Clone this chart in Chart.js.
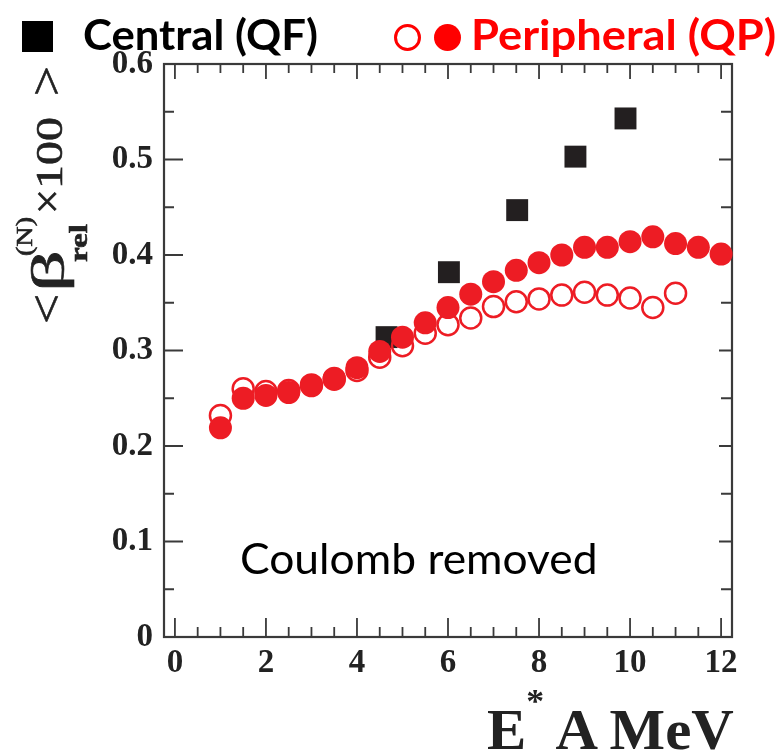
<!DOCTYPE html>
<html><head><meta charset="utf-8">
<script src="https://cdn.jsdelivr.net/npm/chart.js@4.4.0/dist/chart.umd.min.js"></script>
<style>
html,body{margin:0;padding:0;background:#fff;}
#wrap{position:relative;width:780px;height:753px;overflow:hidden;background:#fff;}
#c{position:absolute;left:0;top:0;}
.ov{position:absolute;white-space:nowrap;transform-origin:0 0;}
</style></head><body>
<div id="wrap">
<canvas id="c" width="780" height="753"></canvas>
<div class="ov" style="left:22px;top:21px;width:31px;height:31px;background:#000;"></div>
<div class="ov" id="legCentral" style="left:83px;top:13px;font:bold 42px Lato;line-height:42px;color:#000;">Central (QF)</div>
<div class="ov" style="left:394px;top:24px;width:21px;height:21px;border:3px solid #f00;border-radius:50%;"></div>
<div class="ov" style="left:434px;top:24px;width:27px;height:27px;background:#f00;border-radius:50%;"></div>
<div class="ov" id="legPeri" style="left:471px;top:13px;font:bold 42px Lato;line-height:42px;color:#f00;">Peripheral (QP)</div>
<div class="ov" id="coul" style="left:240px;top:536px;font:43px Lato;line-height:43px;color:#000;">Coulomb removed</div>
<div class="ov" id="xtitle" style="left:487px;top:702px;font:bold 56px 'Liberation Serif';line-height:56px;color:#222;">E<span style="position:relative;top:-37px;font-size:34px;">*</span> A MeV</div>
</div>
<script>
// ---- data ----
const xTickValues = [0, 2, 4, 6, 8, 10, 12];
const xTickLabels = ['0', '2', '4', '6', '8', '10', '12'];
const yTickValues = [0, 0.1, 0.2, 0.3, 0.4, 0.5, 0.6];
const yTickLabels = ['0', '0.1', '0.2', '0.3', '0.4', '0.5', '0.6'];
const xMinorTicks = [0.5, 1, 1.5, 2.5, 3, 3.5, 4.5, 5, 5.5, 6.5, 7, 7.5, 8.5, 9, 9.5, 10.5, 11, 11.5];
const yMinorTicks = [0.05, 0.15, 0.25, 0.35, 0.45, 0.55];

const centralE    = [4.65, 6.02, 7.52, 8.80, 9.90];
const centralBeta = [0.314, 0.382, 0.447, 0.503, 0.543];

const periFilledE    = [1, 1.5, 2, 2.5, 3, 3.5, 4, 4.5, 5, 5.5, 6, 6.5, 7, 7.5, 8, 8.5, 9, 9.5, 10, 10.5, 11, 11.5, 12];
const periFilledBeta = [0.219, 0.250, 0.253, 0.256, 0.263, 0.271, 0.282, 0.299, 0.314, 0.329, 0.345, 0.359, 0.372, 0.384, 0.392, 0.400, 0.408, 0.408, 0.414, 0.419, 0.412, 0.408, 0.401];

const periOpenE    = [1, 1.5, 2, 2.5, 3, 3.5, 4, 4.5, 5, 5.5, 6, 6.5, 7, 7.5, 8, 8.5, 9, 9.5, 10, 10.5, 11];
const periOpenBeta = [0.232, 0.260, 0.257, 0.258, 0.264, 0.270, 0.279, 0.293, 0.305, 0.318, 0.327, 0.334, 0.346, 0.351, 0.354, 0.358, 0.361, 0.358, 0.355, 0.345, 0.360];

const zip = (xs, ys) => xs.map((x, i) => ({x: x, y: ys[i]}));

// ---- overlays fitting ----
function fitW(id, w){ const el=document.getElementById(id); el.style.transform='scaleX('+(w/el.offsetWidth)+')'; }
fitW('legCentral', 235);
fitW('legPeri', 305);
fitW('coul', 358);
fitW('xtitle', 247);

const tickFont = {family: "'Liberation Serif'", weight: 'bold', size: 33};
const RED = '#ed1c24';

const framePlugin = {
  id: 'frame',
  beforeDatasetsDraw(chart){
    const {ctx, chartArea: a, scales: {x, y}} = chart;
    ctx.save();
    ctx.strokeStyle = '#3a3a3a';
    ctx.lineWidth = 2.2;
    ctx.strokeRect(a.left, a.top, a.right - a.left, a.bottom - a.top);
    ctx.lineWidth = 1.8;
    ctx.beginPath();
    const t = (x1, y1, x2, y2) => { ctx.moveTo(x1, y1); ctx.lineTo(x2, y2); };
    xTickValues.forEach(v => { const p = x.getPixelForValue(v); t(p, a.bottom, p, a.bottom - 19); t(p, a.top, p, a.top + 15); });
    xMinorTicks.forEach(v => { const p = x.getPixelForValue(v); t(p, a.bottom, p, a.bottom - 10); t(p, a.top, p, a.top + 9); });
    yTickValues.forEach(v => { const p = y.getPixelForValue(v); t(a.left, p, a.left + 19, p); t(a.right, p, a.right - 13, p); });
    yMinorTicks.forEach(v => { const p = y.getPixelForValue(v); t(a.left, p, a.left + 10, p); t(a.right, p, a.right - 11, p); });
    ctx.stroke();
    ctx.restore();
  }
};

// rotated y-axis title  < β(N)rel ×100 >
const yTitlePlugin = {
  id: 'ytitle',
  afterDraw(chart){
    const ctx = chart.ctx;
    const piece = (text, font, yStart, len, baseX) => {
      ctx.save();
      ctx.font = font;
      ctx.fillStyle = '#222';
      ctx.strokeStyle = '#222';
      ctx.lineWidth = 0.6;
      ctx.textAlign = 'left';
      ctx.textBaseline = 'alphabetic';
      const w = ctx.measureText(text).width;
      ctx.translate(baseX, yStart);
      ctx.rotate(-Math.PI / 2);
      ctx.scale(len / w, 1);
      ctx.fillText(text, 0, 0);
      ctx.strokeText(text, 0, 0);
      ctx.restore();
    };
    piece('<', "46px 'Liberation Serif'", 324, 30, 62);
    piece('β', "46px 'Liberation Serif'", 292, 42, 64);
    piece('(N)', "23px 'Liberation Serif'", 256, 39, 32);
    piece('rel', "bold 25px 'Liberation Serif'", 262, 38, 87);
    piece('×', "44px 'Liberation Serif'", 214, 25, 62);
    piece('100', "37px 'Liberation Serif'", 189, 72, 62);
    piece('>', "46px 'Liberation Serif'", 96, 30, 62);
  }
};

new Chart(document.getElementById('c'), {
  type: 'scatter',
  data: {
    datasets: [
      {label: 'Peripheral (QP)', data: zip(periFilledE, periFilledBeta), pointStyle: 'circle',
       pointRadius: 11.5, pointHoverRadius: 11.5, backgroundColor: RED, borderColor: RED, borderWidth: 0, order: 1},
      {label: 'Peripheral (QP) open', data: zip(periOpenE, periOpenBeta), pointStyle: 'circle',
       pointRadius: 10.5, pointHoverRadius: 10.5, backgroundColor: 'rgba(255,255,255,0)', borderColor: RED, borderWidth: 2.5, order: 2},
      {label: 'Central (QF)', data: zip(centralE, centralBeta), pointStyle: 'rect',
       pointRadius: 15.5, pointHoverRadius: 15.5, backgroundColor: '#231f20', borderColor: '#231f20', borderWidth: 0, order: 3}
    ]
  },
  options: {
    responsive: false,
    animation: false,
    events: [],
    devicePixelRatio: 1,
    clip: false,
    layout: {padding: {left: 0, right: 48, top: 64, bottom: 0}},
    plugins: {legend: {display: false}, tooltip: {enabled: false}},
    scales: {
      x: {
        type: 'linear', min: -0.24, max: 12.24,
        afterBuildTicks: s => { s.ticks = xTickValues.map(v => ({value: v})); },
        afterFit: s => { s.height = 116; },
        ticks: {callback: (v, i) => xTickLabels[i], font: tickFont, color: '#222', padding: 7, maxRotation: 0, autoSkip: false},
        grid: {display: false, drawTicks: false, tickLength: 0},
        border: {display: false}
      },
      y: {
        type: 'linear', min: 0, max: 0.6,
        afterBuildTicks: s => { s.ticks = yTickValues.map(v => ({value: v})); },
        afterFit: s => { s.width = 164; },
        ticks: {callback: (v, i) => yTickLabels[i], font: tickFont, color: '#222', padding: 11, autoSkip: false},
        grid: {display: false, drawTicks: false, tickLength: 0},
        border: {display: false}
      }
    }
  },
  plugins: [framePlugin, yTitlePlugin]
});
</script>
</body></html>
